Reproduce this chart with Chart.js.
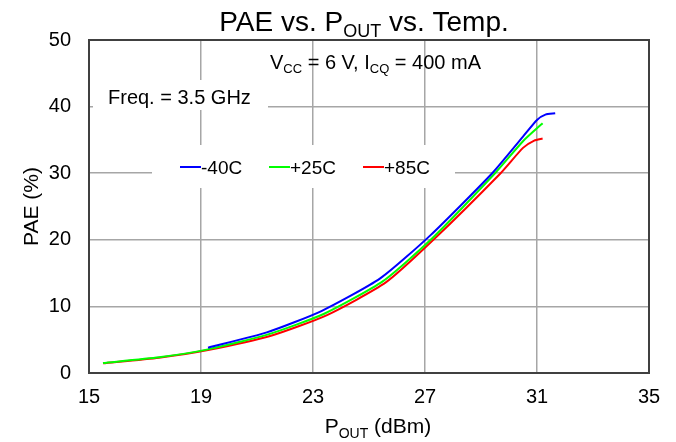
<!DOCTYPE html>
<html>
<head>
<meta charset="utf-8">
<script src="https://cdn.jsdelivr.net/npm/chart.js@4.4.0/dist/chart.umd.min.js"></script>
<style>
  body { margin: 0; background: #fff; }
  #wrap { width: 676px; height: 442px; }
</style>
</head>
<body>
<div id="wrap"><canvas id="paeChart"></canvas></div>
<script>
const poutM40 = [19.25, 21.35, 23.3, 25.4, 27.2, 29.4, 30.5, 31.0, 31.3, 31.65];
const paeM40  = [3.8,   6.1,   9.3,  14.2, 20.7, 30.0, 35.5, 38.0, 38.8, 39.0];

const pout25 = [15.5, 17.5, 19.25, 21.4, 23.4, 25.5, 27.25, 29.5, 30.5, 31.2];
const pae25  = [1.5,  2.35, 3.55,  5.8,  8.9,  13.8, 20.2,  30.0, 34.8, 37.5];

const pout85 = [15.5, 17.5, 19.25, 21.5, 23.5, 25.6, 27.3, 29.7, 30.5, 30.9, 31.2];
const pae85  = [1.45, 2.3,  3.45,  5.6,  8.7,  13.6, 20.0, 30.0, 33.8, 34.9, 35.2];

const seriesNames = ["-40C", "+25C", "+85C"];
const seriesColors = ["#0000ff", "#00ff00", "#ff0000"];

const xTicks = [15, 19, 23, 27, 31, 35];
const yTicks = [0, 10, 20, 30, 40, 50];

const FONT = "'Liberation Sans', Arial, sans-serif";

function toPoints(xs, ys) {
  return xs.map((x, i) => ({ x: x, y: ys[i] }));
}

// Text mit tiefgestelltem Teil zeichnen: parts = [[text, sub?], ...]
function partsWidth(ctx, parts, size) {
  let w = 0;
  parts.forEach(p => {
    ctx.font = (p[1] ? Math.round(size * 0.65) : size) + "px " + FONT;
    w += ctx.measureText(p[0]).width;
  });
  return w;
}
function drawParts(ctx, parts, x, y, size) {
  ctx.textAlign = "left";
  ctx.textBaseline = "alphabetic";
  parts.forEach(p => {
    if (p[1]) {
      ctx.font = Math.round(size * 0.65) + "px " + FONT;
      ctx.fillText(p[0], x, y + size * 0.22);
    } else {
      ctx.font = size + "px " + FONT;
      ctx.fillText(p[0], x, y);
    }
    x += ctx.measureText(p[0]).width;
  });
}

const decorPlugin = {
  id: "decor",
  beforeDatasetsDraw(chart) {
    const ctx = chart.ctx;
    const a = chart.chartArea;
    ctx.save();

    // weiße Kästen über dem Gitter
    ctx.fillStyle = "#fff";
    ctx.fillRect(a.left + 4, a.top + 40, 175, 30);   // Freq.
    ctx.fillRect(a.left + 63, a.top + 105, 303, 43); // Legende

    // Rahmen
    ctx.strokeStyle = "#404040";
    ctx.lineWidth = 2;
    ctx.strokeRect(a.left, a.top, a.right - a.left, a.bottom - a.top);

    ctx.fillStyle = "#000";
    drawParts(ctx, [["V", 0], ["CC", 1], [" = 6 V, I", 0], ["CQ", 1], [" = 400 mA", 0]],
      a.left + 181, a.top + 29, 20);
    drawParts(ctx, [["Freq. = 3.5 GHz", 0]], a.left + 19, a.top + 64, 20);

    // Legende
    let lx = a.left + 91;
    const ly = a.top + 127;
    const gaps = [89, 94, 0];
    seriesNames.forEach((name, i) => {
      ctx.strokeStyle = seriesColors[i];
      ctx.lineWidth = 2;
      ctx.beginPath();
      ctx.moveTo(lx, ly);
      ctx.lineTo(lx + 21, ly);
      ctx.stroke();
      ctx.fillStyle = "#000";
      drawParts(ctx, [[name, 0]], lx + 21, ly + 7, 19);
      lx += gaps[i];
    });
    ctx.restore();
  },
  afterDraw(chart) {
    const ctx = chart.ctx;
    const a = chart.chartArea;
    const cx = (a.left + a.right) / 2;
    ctx.save();
    ctx.fillStyle = "#000";

    // Titel
    const tParts = [["PAE vs. P", 0], ["OUT", 1], [" vs. Temp.", 0]];
    const tw = partsWidth(ctx, tParts, 28);
    drawParts(ctx, tParts, cx - 5 - tw / 2, 31, 28);

    // x-Achsentitel
    const xParts = [["P", 0], ["OUT", 1], [" (dBm)", 0]];
    const xw = partsWidth(ctx, xParts, 21);
    drawParts(ctx, xParts, cx - xw / 2 + 9, 433, 21);

    // y-Achsentitel
    ctx.translate(38, (a.top + a.bottom) / 2);
    ctx.rotate(-Math.PI / 2);
    ctx.font = "21px " + FONT;
    ctx.textAlign = "center";
    ctx.textBaseline = "alphabetic";
    ctx.fillText("PAE (%)", 0, 0);
    ctx.restore();
  }
};

const datasets = [
  toPoints(poutM40, paeM40),
  toPoints(pout25, pae25),
  toPoints(pout85, pae85)
].map((pts, i) => ({
  label: seriesNames[i],
  data: pts,
  borderColor: seriesColors[i],
  backgroundColor: seriesColors[i],
  borderWidth: 2,
  pointRadius: 0,
  showLine: true,
  tension: 0.2
}));

new Chart(document.getElementById("paeChart"), {
  type: "scatter",
  data: { datasets: datasets },
  options: {
    responsive: true,
    maintainAspectRatio: false,
    animation: false,
    layout: { padding: { top: 40, right: 27, left: 0, bottom: 0 } },
    plugins: {
      legend: { display: false },
      tooltip: { enabled: false }
    },
    scales: {
      x: {
        type: "linear",
        min: 15,
        max: 35,
        afterBuildTicks: s => { s.ticks = xTicks.map(v => ({ value: v })); },
        afterFit: s => { s.height = 69; },
        grid: { color: "#a6a6a6", lineWidth: 1.5, drawTicks: false },
        border: { display: false },
        ticks: { color: "#000", font: { family: FONT, size: 20 }, padding: 12, maxRotation: 0 }
      },
      y: {
        min: 0,
        max: 50,
        afterBuildTicks: s => { s.ticks = yTicks.map(v => ({ value: v })); },
        afterFit: s => { s.width = 89; },
        grid: { color: "#a6a6a6", lineWidth: 1.5, drawTicks: false },
        border: { display: false },
        ticks: { color: "#000", font: { family: FONT, size: 20 }, padding: 18 }
      }
    }
  },
  plugins: [decorPlugin]
});
</script>
</body>
</html>
